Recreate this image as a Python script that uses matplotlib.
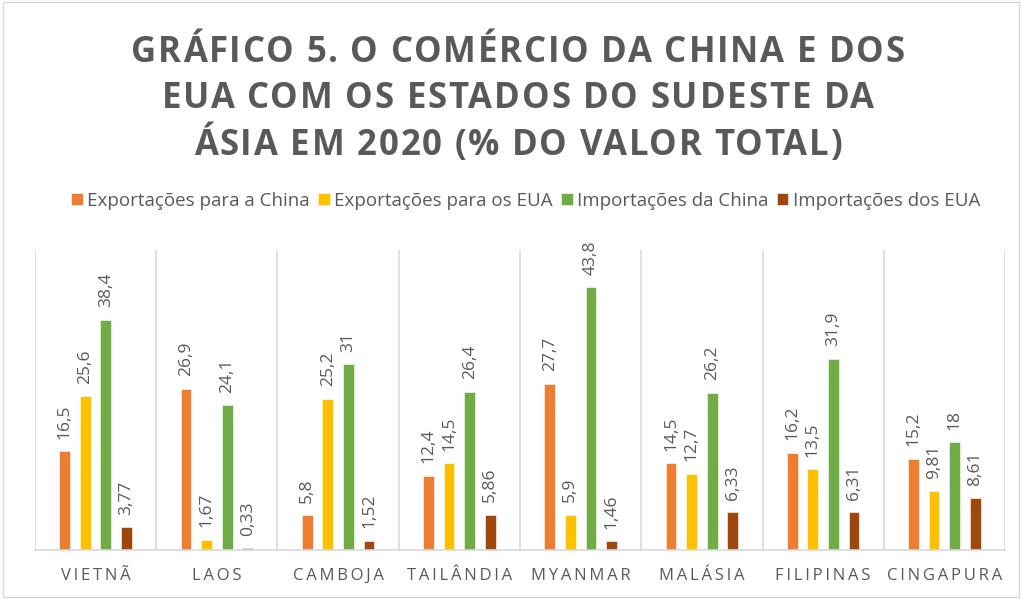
import numpy as np
import matplotlib.pyplot as plt
from matplotlib.patches import Rectangle

# Trade shares by country (% of total value, 2020)
paises = ['VIETNÃ', 'LAOS', 'CAMBOJA', 'TAILÂNDIA', 'MYANMAR', 'MALÁSIA', 'FILIPINAS', 'CINGAPURA']
series = ['Exportações para a China', 'Exportações para os EUA',
          'Importações da China', 'Importações dos EUA']
exp_china = [16.5, 26.9, 5.8, 12.4, 27.7, 14.5, 16.2, 15.2]
exp_eua = [25.6, 1.67, 25.2, 14.5, 5.9, 12.7, 13.5, 9.81]
imp_china = [38.4, 24.1, 31, 26.4, 43.8, 26.2, 31.9, 18]
imp_eua = [3.77, 0.33, 1.52, 5.86, 1.46, 6.33, 6.31, 8.61]
cores = ['#ED7D31', '#FFC000', '#70AD47', '#9E480E']
titulo = ['GRÁFICO 5. O COMÉRCIO DA CHINA E DOS',
          'EUA COM OS ESTADOS DO SUDESTE DA',
          'ÁSIA EM 2020 (% DO VALOR TOTAL)']

cinza = '#595959'
plt.rcParams['font.family'] = ['Open Sans', 'DejaVu Sans']

fig = plt.figure(figsize=(10.22, 5.99), dpi=100)
fig.patches.append(Rectangle((0.003, 0.003), 0.994, 0.994, transform=fig.transFigure,
                             fill=False, edgecolor='#D9D9D9', linewidth=1))
ax = fig.add_axes([0.0342, 0.0818, 0.9492, 0.5008])

x = np.arange(len(paises))
largura = 0.089
passo = 0.17
dados = [exp_china, exp_eua, imp_china, imp_eua]
for i, (vals, cor, nome) in enumerate(zip(dados, cores, series)):
    pos = x + (i - 1.5) * passo
    ax.bar(pos, vals, width=largura, color=cor, label=nome,
           edgecolor='white', linewidth=0.4)
    for p, v in zip(pos, vals):
        ax.annotate(f'{v:g}'.replace('.', ','), (p, v), xytext=(0, 9),
                    textcoords='offset points', rotation=90, ha='center',
                    va='bottom', fontsize=12.5, color=cinza)

ax.set_xlim(-0.5, len(paises) - 0.5)
ax.set_ylim(0, 50)
for b in np.arange(len(paises) + 1) - 0.5:
    ax.axvline(b, color='#D9D9D9', linewidth=1.2, zorder=0)
for s in ['top', 'left', 'right']:
    ax.spines[s].set_visible(False)
ax.spines['bottom'].set_color('#D9D9D9')
ax.spines['bottom'].set_linewidth(1.2)
ax.set_yticks([])
ax.set_xticks(x)
ax.set_xticklabels(['\u2009'.join(p) for p in paises], fontsize=12, color=cinza)
ax.tick_params(axis='x', length=0, pad=13)


# title with extra letter spacing: each glyph placed by hand
renderer = fig.canvas.get_renderer()
W, H = fig.bbox.width, fig.bbox.height
fonte = dict(fontsize=25, fontweight='bold', color=cinza)


def largura_px(s):
    t = fig.text(0, 0, s, **fonte)
    w = t.get_window_extent(renderer).width
    t.remove()
    return w


def linha_espacada(s, yc, xc=518, tracking=1.8):
    total = largura_px(s) + tracking * (len(s) - 1)
    x0 = xc - total / 2
    for k, c in enumerate(s):
        if c == ' ':
            continue
        direita = largura_px(s[:k + 1])
        esquerda = direita - largura_px(c)
        fig.text((x0 + esquerda + k * tracking) / W, yc, c, ha='left',
                 va='baseline', **fonte)


for linha, yb in zip(titulo, [0.897, 0.819, 0.742]):
    linha_espacada(linha, yb)

fig.legend(loc='center', bbox_to_anchor=(0.5147, 0.665), ncol=4, frameon=False,
           fontsize=13.5, handlelength=0.6, handleheight=0.6, handletextpad=0.25,
           columnspacing=0.45, labelcolor=cinza)

fig.savefig('out.png', dpi=100)
